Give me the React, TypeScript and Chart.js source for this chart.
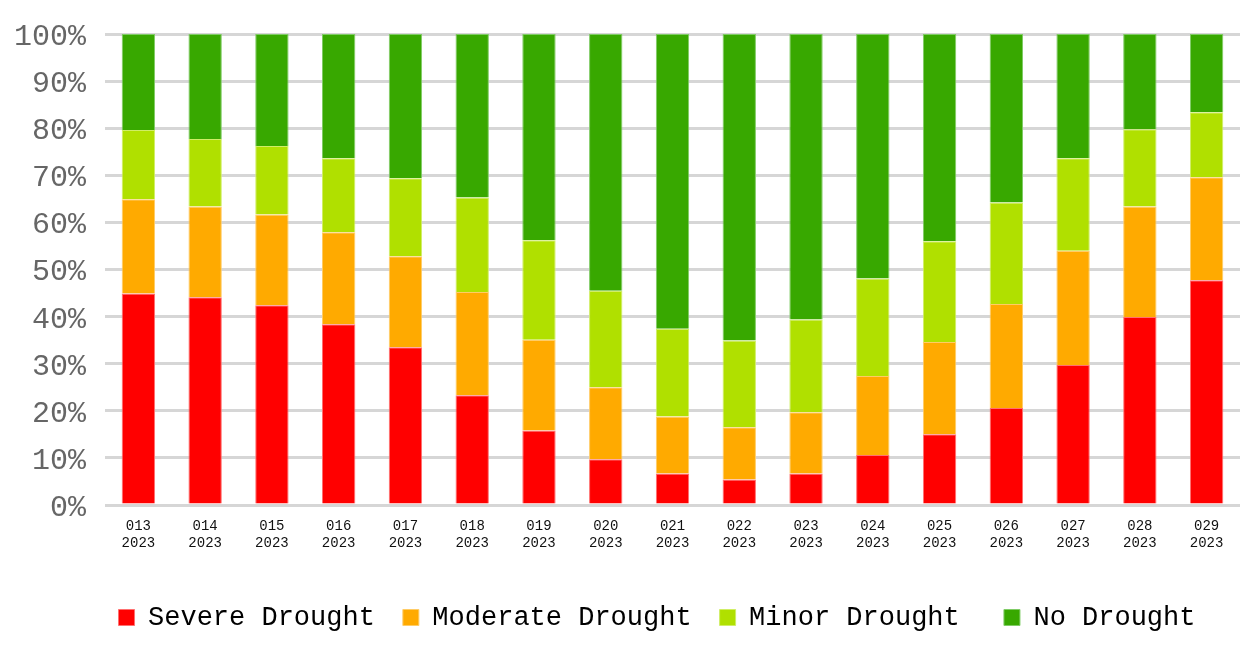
import React, { useEffect, useRef } from "react";
import { Chart, registerables } from "chart.js";

Chart.register(...registerables);

const weeks = ["013", "014", "015", "016", "017", "018", "019", "020", "021", "022", "023", "024", "025", "026", "027", "028", "029"];
const year = "2023";

const severe = [44.9, 44.1, 42.4, 38.4, 33.5, 23.3, 15.8, 9.7, 6.7, 5.4, 6.7, 10.6, 15.0, 20.6, 29.7, 39.9, 47.7];
const moderate = [20.0, 19.3, 19.3, 19.5, 19.3, 21.9, 19.3, 15.3, 12.1, 11.1, 13.0, 16.8, 19.6, 22.1, 24.3, 23.5, 21.9];
const minor = [14.7, 14.3, 14.5, 15.7, 16.6, 20.1, 21.1, 20.5, 18.6, 18.4, 19.7, 20.7, 21.4, 21.5, 19.6, 16.4, 13.8];
const none = [20.4, 22.3, 23.8, 26.4, 30.6, 34.7, 43.8, 54.5, 62.6, 65.1, 60.6, 51.9, 44.0, 35.8, 26.4, 20.2, 16.6];

const seriesNames = ["Severe Drought", "Moderate Drought", "Minor Drought ", "No Drought"];
const yTicks = [0, 10, 20, 30, 40, 50, 60, 70, 80, 90, 100];

const MONO = "'Courier New', 'Liberation Mono', monospace";

const legendShift = {
  id: "legendShift",
  afterLayout(chart: any) {
    const l = chart.legend;
    if (l) {
      l.left += 37;
      l.right += 37;
    }
  },
};

export default function App() {
  const ref = useRef<HTMLCanvasElement | null>(null);

  useEffect(() => {
    if (!ref.current) return;
    const labels = weeks.map((w) => [w, year]);
    const mk = (label: string, data: number[], color: string, border: string) => ({
      label,
      data,
      backgroundColor: color,
      borderColor: border,
      borderWidth: 1,
    });
    const chart = new Chart(ref.current, {
      type: "bar",
      data: {
        labels,
        datasets: [
          mk(seriesNames[0], severe, "#ff0000", "#ff7070"),
          mk(seriesNames[1], moderate, "#ffaa00", "#ffcc66"),
          mk(seriesNames[2], minor, "#b0e000", "#d0ee66"),
          mk(seriesNames[3], none, "#38a800", "#80cc66"),
        ],
      },
      plugins: [legendShift],
      options: {
        animation: false,
        responsive: true,
        maintainAspectRatio: false,
        datasets: { bar: { categoryPercentage: 1, barPercentage: 0.5 } },
        layout: { padding: { top: 32, right: 7, left: 0, bottom: 8 } },
        plugins: {
          tooltip: { enabled: false },
          legend: {
            position: "bottom",
            labels: {
              boxWidth: 16,
              boxHeight: 16,
              padding: 28,
              color: "#000",
              font: { family: MONO, size: 27 },
            },
          },
        },
        scales: {
          x: {
            stacked: true,
            grid: { display: false, drawTicks: false },
            border: { display: false },
            ticks: {
              color: "#111",
              padding: 13,
              maxRotation: 0,
              autoSkip: false,
              font: { family: MONO, size: 14, lineHeight: 1.2 },
            },
            afterFit: (s: any) => {
              s.height = 71;
            },
          },
          y: {
            stacked: true,
            min: 0,
            max: 100,
            afterBuildTicks: (s: any) => {
              s.ticks = yTicks.map((v) => ({ value: v }));
            },
            grid: { color: "#d6d6d6", lineWidth: 3, drawTicks: false },
            border: { display: false },
            ticks: {
              color: "#666",
              padding: 19,
              labelOffset: 3,
              font: { family: MONO, size: 30, lineHeight: 1 },
              callback: (v: any) => v + "%",
            },
            afterFit: (s: any) => {
              s.width = 105;
            },
          },
        },
      },
    });
    return () => chart.destroy();
  }, []);

  return (
    <div style={{ position: "absolute", left: 0, top: 0, width: 1247, height: 649 }}>
      <canvas ref={ref} />
    </div>
  );
}
